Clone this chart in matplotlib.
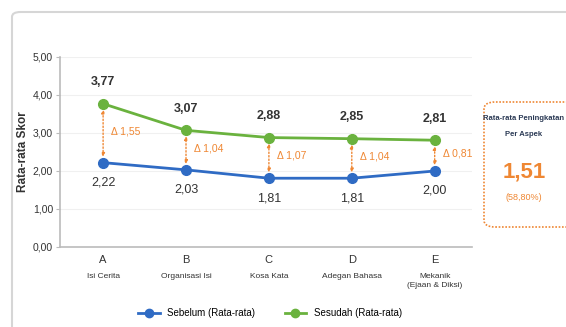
"""Line chart: mean score per aspect, before vs after."""
import matplotlib
matplotlib.use("Agg")
import matplotlib.pyplot as plt
import matplotlib.patches as mpatches
from matplotlib.lines import Line2D

plt.rcParams["font.family"] = ["Liberation Sans Narrow", "Liberation Sans", "DejaVu Sans"]

codes = ["A", "B", "C", "D", "E"]
aspects = ["Isi Cerita", "Organisasi Isi", "Kosa Kata", "Adegan Bahasa", "Mekanik\n(Ejaan & Diksi)"]
sebelum = [2.22, 2.03, 1.81, 1.81, 2.00]
sesudah = [3.77, 3.07, 2.88, 2.85, 2.81]
yticks = [0, 1, 2, 3, 4, 5]
avg_gain = "1,51"
avg_pct = "(58,80%)"

BLUE = "#2F6BC4"
GREEN = "#6AB23E"
ORANGE = "#EF8733"
DARK = "#333333"


def fmt(v):
    return f"{v:.2f}".replace(".", ",")


fig = plt.figure(figsize=(5.66, 3.27), dpi=100)
fig.patch.set_facecolor("white")

# card border
card = mpatches.FancyBboxPatch((12 / 566, -0.05), 1.0, 1 - 12 / 327 + 0.05,
                               boxstyle="round,pad=0,rounding_size=0.015",
                               transform=fig.transFigure, facecolor="white",
                               edgecolor="#D6D6D6", linewidth=1.5, zorder=-10)
fig.patches.append(card)

ax = fig.add_axes([60 / 566, 1 - 247 / 327, 412 / 566, 190 / 327])
ax.set_facecolor("none")
x = list(range(len(codes)))

ax.set_xlim(-0.52, 4.45)
ax.set_ylim(0, 5)
ax.set_yticks(yticks)
ax.set_yticklabels([fmt(v) for v in yticks], fontsize=7.5, color=DARK)
ax.set_xticks([])
ax.grid(axis="y", color="#F0F0F0", linewidth=0.8)
ax.set_axisbelow(True)
for s in ["top", "right"]:
    ax.spines[s].set_visible(False)
for s in ["left", "bottom"]:
    ax.spines[s].set_color("#BBBBBB")
    ax.spines[s].set_linewidth(1.2)
ax.tick_params(axis="y", length=3, color="#BBBBBB", pad=2)
ax.set_ylabel("Rata-rata Skor", fontsize=8.5, fontweight="bold", color=DARK, labelpad=3)

# delta arrows
for xi, lo, hi in zip(x, sebelum, sesudah):
    ax.annotate("", xy=(xi, hi - 0.08), xytext=(xi, lo + 0.08),
                arrowprops=dict(arrowstyle="<|-|>", color=ORANGE, lw=1,
                                linestyle=(0, (1, 1.5)), mutation_scale=5))
    ax.text(xi + 0.1, (lo + hi) / 2 + 0.05, "Δ " + fmt(hi - lo), color=ORANGE,
            fontsize=7.5, ha="left", va="center")

ax.plot(x, sebelum, color=BLUE, lw=2, marker="o", ms=7, zorder=3)
ax.plot(x, sesudah, color=GREEN, lw=2, marker="o", ms=7, zorder=3)

for xi, v in zip(x, sesudah):
    ax.annotate(fmt(v), (xi, v), xytext=(0, 11), textcoords="offset points",
                ha="center", va="bottom", fontsize=9, fontweight="bold", color=DARK)
for xi, v in zip(x, sebelum):
    ax.annotate(fmt(v), (xi, v), xytext=(0, -10), textcoords="offset points",
                ha="center", va="top", fontsize=9, color=DARK)

# category labels
for xi, c, a in zip(x, codes, aspects):
    ax.annotate(c, (xi, 0), xytext=(0, -6), textcoords="offset points",
                ha="center", va="top", fontsize=8, color=DARK)
    ax.annotate(a, (xi, 0), xytext=(0, -19), textcoords="offset points",
                ha="center", va="top", fontsize=6, color=DARK, linespacing=1.3)

handles = [Line2D([], [], color=BLUE, lw=2, marker="o", ms=6),
           Line2D([], [], color=GREEN, lw=2, marker="o", ms=6)]
fig.legend(handles, ["Sebelum (Rata-rata)", "Sesudah (Rata-rata)"], loc="center",
           bbox_to_anchor=(270 / 566, 1 - 313 / 327), ncol=2, frameon=False,
           fontsize=7, handlelength=2.2, columnspacing=3)

# summary box
box = mpatches.FancyBboxPatch((484 / 566, 1 - 227 / 327), 0.2, 125 / 327,
                              boxstyle="round,pad=0,rounding_size=0.02",
                              transform=fig.transFigure, facecolor="white",
                              edgecolor=ORANGE, linewidth=1.2, linestyle=(0, (1, 1)))
fig.patches.append(box)
fig.text(524 / 566, 1 - 118 / 327, "Rata-rata Peningkatan", ha="center", va="center",
         fontsize=5.5, fontweight="bold", color="#2B3A55")
fig.text(524 / 566, 1 - 134 / 327, "Per Aspek", ha="center", va="center",
         fontsize=5.5, fontweight="bold", color="#2B3A55")
fig.text(524 / 566, 1 - 172 / 327, avg_gain, ha="center", va="center",
         fontsize=16, fontweight="bold", color=ORANGE)
fig.text(524 / 566, 1 - 197 / 327, avg_pct, ha="center", va="center",
         fontsize=6.5, color=ORANGE)

fig.savefig("out.png", dpi=100, facecolor="white")
